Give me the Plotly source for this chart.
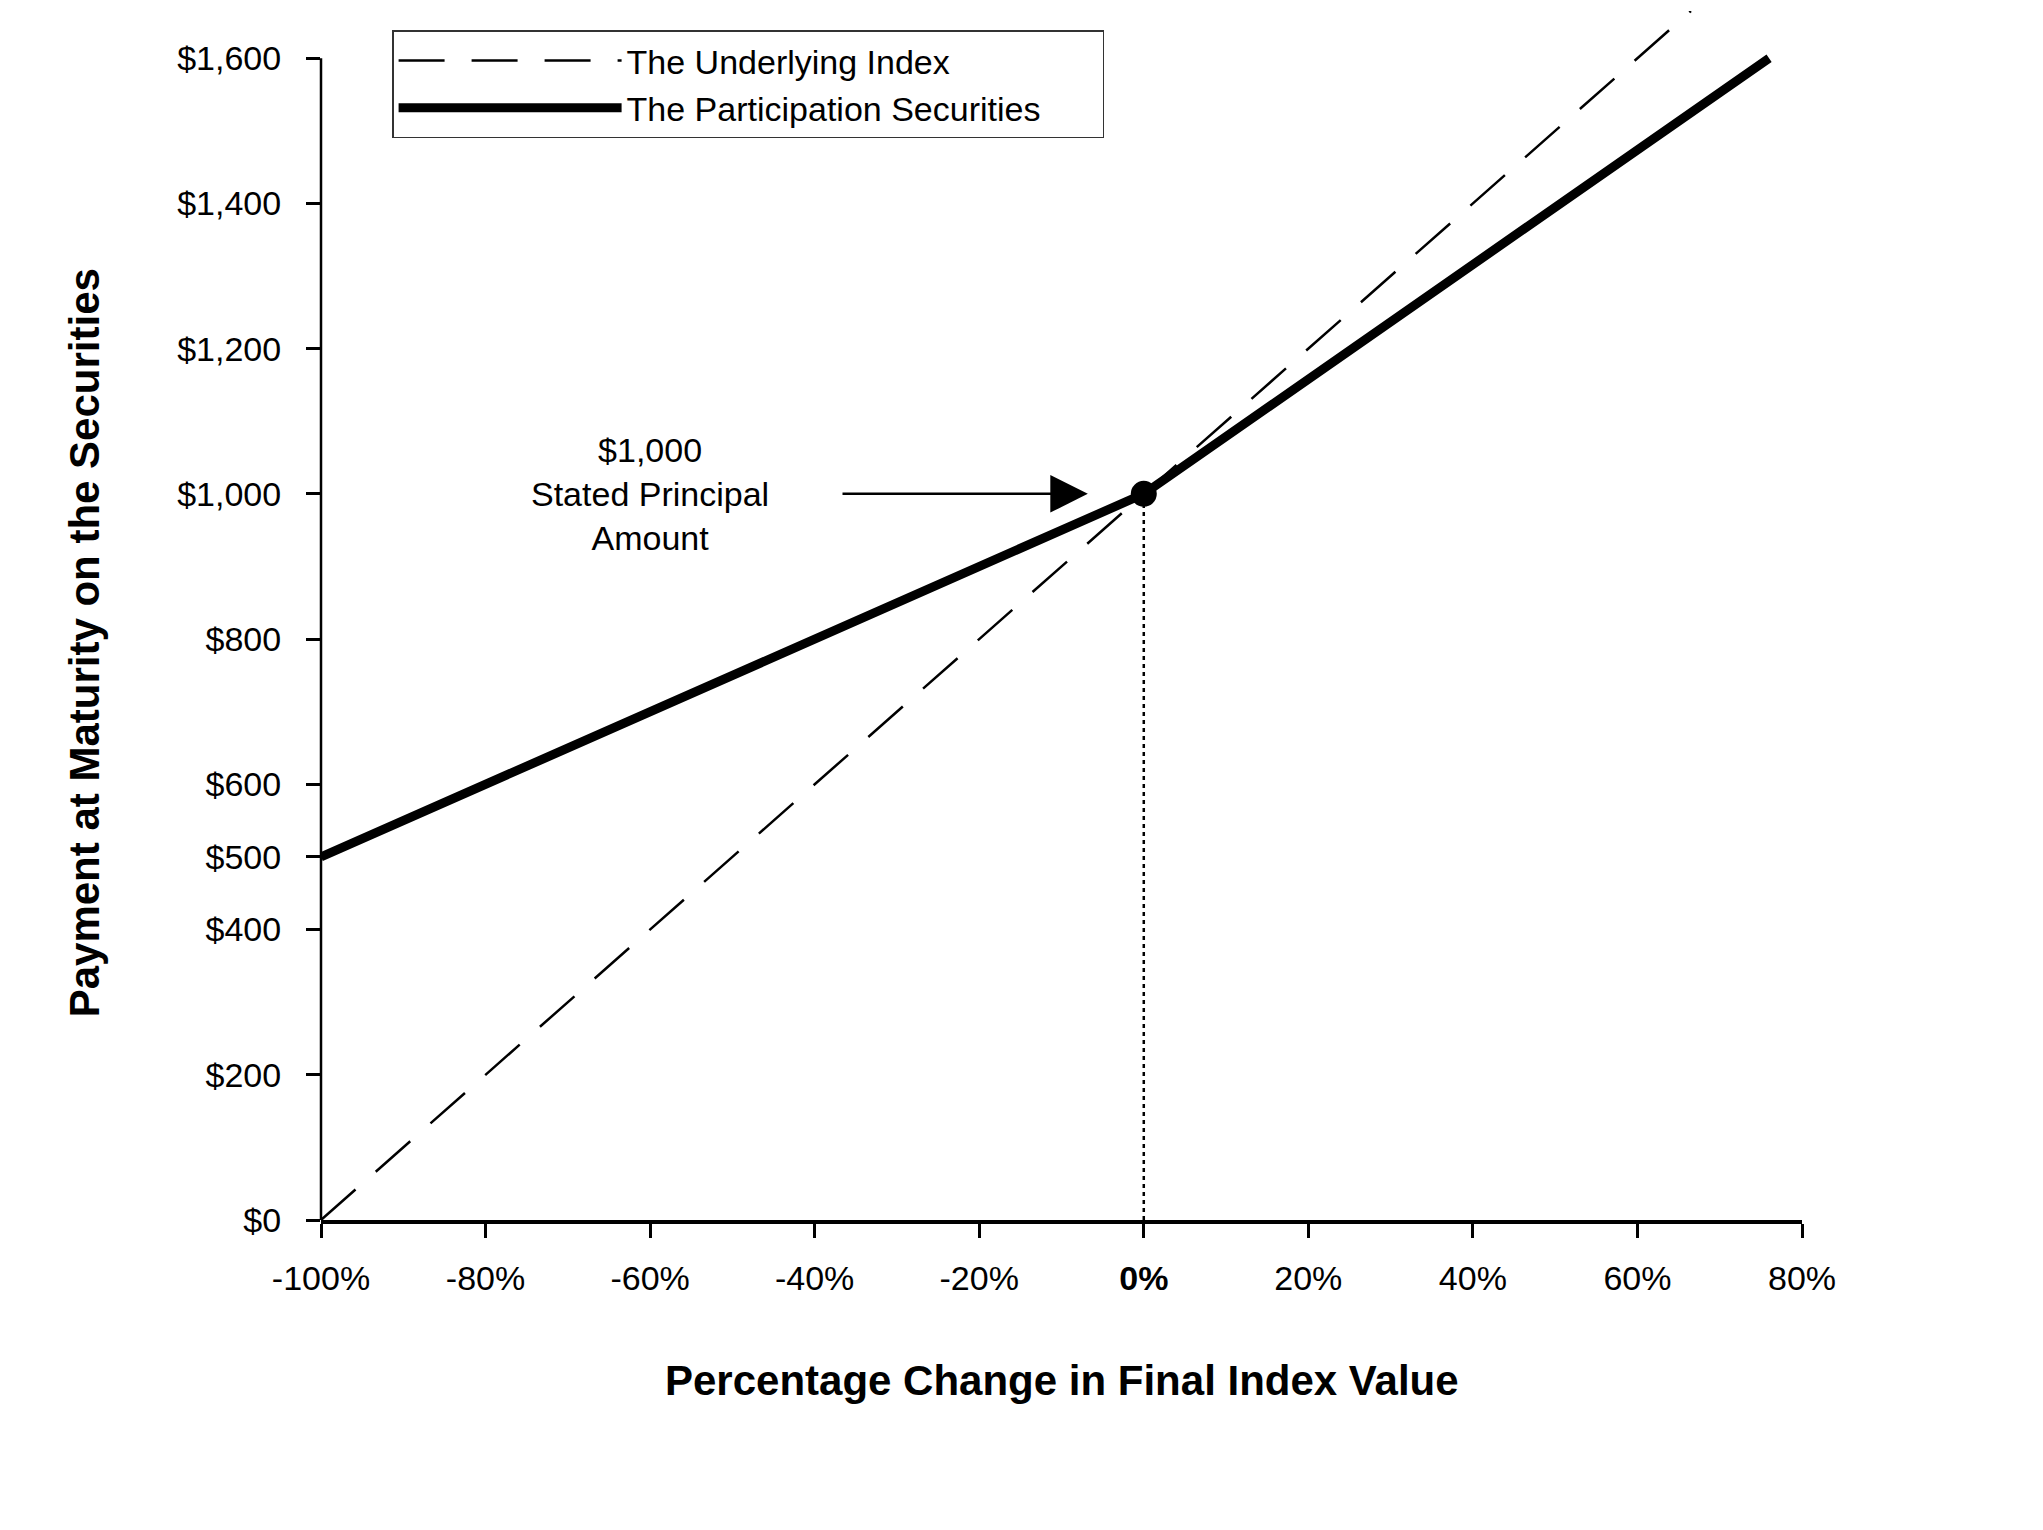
import plotly.graph_objects as go

# ---- data ----
X_INDEX = [-100, 0, 66.5]          # percentage change in final index value
Y_INDEX = [0, 1000, 1665]          # payment tracking underlying index
X_PART = [-100, 0, 76]
Y_PART = [500, 1000, 1600]         # participation securities payoff
PRINCIPAL_X = [0]
PRINCIPAL_Y = [1000]
X_TICKS = [-100, -80, -60, -40, -20, 0, 20, 40, 60, 80]
X_TICK_TEXT = ["-100%", "-80%", "-60%", "-40%", "-20%", "<b>0%</b>", "20%", "40%", "60%", "80%"]
Y_TICKS = [0, 200, 400, 500, 600, 800, 1000, 1200, 1400, 1600]
Y_TICK_TEXT = ["$0", "$200", "$400", "$500", "$600", "$800", "$1,000", "$1,200", "$1,400", "$1,600"]
Y_MAX = 1665
SERIES_NAMES = ["The Underlying Index", "The Participation Securities"]
ANNOT_TEXT = "$1,000<br>Stated Principal<br>Amount"
ANNOT_X, ANNOT_Y = -60, 1000
ARROW_TAIL_X, ARROW_HEAD_X = -36.8, -6.8

FONT = "Liberation Sans, Arial, sans-serif"
PAD = "&nbsp;" * 6

fig = go.Figure()

fig.add_trace(go.Scatter(
    x=X_INDEX, y=Y_INDEX, mode="lines", name=SERIES_NAMES[0],
    line=dict(color="black", width=2.5, dash="46px,27px"),
))
fig.add_trace(go.Scatter(
    x=X_PART, y=Y_PART, mode="lines", name=SERIES_NAMES[1] + PAD,
    line=dict(color="black", width=9),
))
# dotted drop line from principal point
fig.add_trace(go.Scatter(
    x=[PRINCIPAL_X[0], PRINCIPAL_X[0]], y=[0, PRINCIPAL_Y[0]], mode="lines",
    line=dict(color="black", width=2.5, dash="4px,4px"), showlegend=False,
))
fig.add_trace(go.Scatter(
    x=PRINCIPAL_X, y=PRINCIPAL_Y, mode="markers",
    marker=dict(color="black", size=26), showlegend=False,
))

fig.add_annotation(
    x=ANNOT_X, y=ANNOT_Y, xref="x", yref="y", text=ANNOT_TEXT, showarrow=False,
    font=dict(family=FONT, size=34, color="black"), align="center",
)
fig.add_annotation(
    x=ARROW_HEAD_X, y=ANNOT_Y, ax=ARROW_TAIL_X, ay=ANNOT_Y,
    xref="x", yref="y", axref="x", ayref="y", text="", showarrow=True,
    arrowhead=2, arrowsize=3, arrowwidth=2.5, arrowcolor="black",
)

# axis titles
fig.add_annotation(
    x=0.5, y=-0.133, xref="paper", yref="paper", text="<b>Percentage Change in Final Index Value</b>",
    showarrow=False, font=dict(family=FONT, size=42, color="black"), xanchor="center", yanchor="middle",
)
fig.add_annotation(
    x=-0.16, y=0.477, xref="paper", yref="paper", text="<b>Payment at Maturity on the Securities</b>",
    showarrow=False, textangle=-90, font=dict(family=FONT, size=42, color="black"),
    xanchor="center", yanchor="middle",
)

# y axis line only up to top tick
fig.add_shape(type="line", xref="paper", yref="y", x0=0, x1=0, y0=Y_TICKS[0], y1=Y_TICKS[-1],
              line=dict(color="black", width=2.5))

fig.update_xaxes(
    range=[X_TICKS[0], X_TICKS[-1]], tickvals=X_TICKS, ticktext=X_TICK_TEXT,
    showgrid=False, zeroline=False, showline=True, linecolor="black", linewidth=4,
    ticks="outside", ticklen=14, tickwidth=2.5, tickcolor="black",
    tickfont=dict(family=FONT, size=34, color="black"), ticklabelstandoff=11,
)
fig.update_yaxes(
    range=[0, Y_MAX], tickvals=Y_TICKS, ticktext=Y_TICK_TEXT,
    showgrid=False, zeroline=False, showline=False,
    ticks="outside", ticklen=14, tickwidth=2.5, tickcolor="black",
    tickfont=dict(family=FONT, size=34, color="black"), ticklabelstandoff=18,
)

fig.update_layout(
    width=2043, height=1530,
    margin=dict(l=313, r=249, t=3, b=318),
    paper_bgcolor="white", plot_bgcolor="white",
    font=dict(family=FONT, color="black"),
    legend=dict(
        x=0.048, y=0.984, xanchor="left", yanchor="top",
        bgcolor="white", bordercolor="#333333", borderwidth=1.5,
        font=dict(family=FONT, size=34, color="black"),
        itemwidth=223, tracegroupgap=6,
    ),
)

fig.write_html("out.html")
